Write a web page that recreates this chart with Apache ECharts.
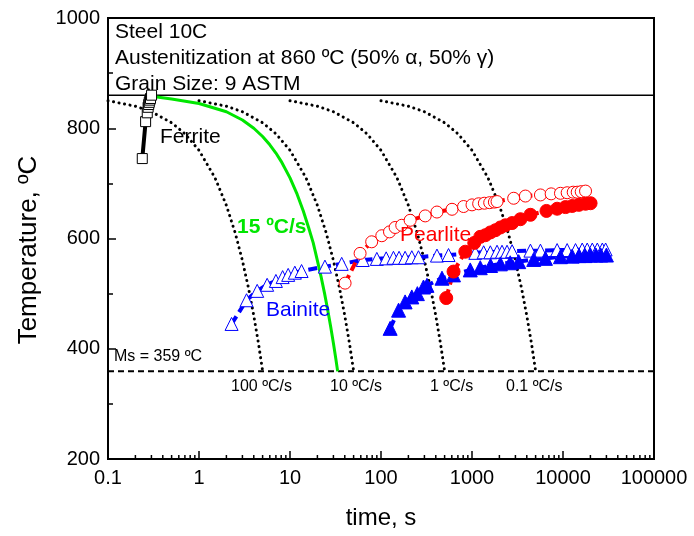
<!DOCTYPE html>
<html>
<head>
<meta charset="utf-8">
<script src="https://cdn.jsdelivr.net/npm/echarts@6/dist/echarts.min.js"></script>
<style>
html,body{margin:0;padding:0;background:#fff;}
#chart{width:694px;height:536px;}
</style>
</head>
<body>
<div id="chart"></div>
<script>
// ---- Data (time in s, temperature in ºC) ----
const xTickLabels = ['0.1', '1', '10', '100', '1000', '10000', '100000'];
const yTickLabels = ['200', '400', '600', '800', '1000'];

const austLine = [[0.1, 860], [100000, 860]];
const msLine = [[0.1, 359], [100000, 359]];

const cool100 = [[0.1,850],[0.2,840],[0.3,830],[0.5,810],[0.7,790],[1,760],[1.5,710],[2,660],[2.5,610],[3,560],[3.5,510],[4,460],[4.5,410],[5.01,359]];
const cool10 = [[1,850],[2,840],[3,830],[5,810],[7,790],[10,760],[15,710],[20,660],[25,610],[30,560],[35,510],[40,460],[45,410],[50.1,359]];
const cool1 = [[10,850],[20,840],[30,830],[50,810],[70,790],[100,760],[150,710],[200,660],[250,610],[300,560],[350,510],[400,460],[450,410],[501,359]];
const cool01 = [[100,850],[200,840],[300,830],[500,810],[700,790],[1000,760],[1500,710],[2000,660],[2500,610],[3000,560],[3500,510],[4000,460],[4500,410],[5010,359]];

const cool15 = [[0.3,858],[0.5,853],[1,845],[2,830],[3,815],[4,800],[5,785],[6,770],[7,755],[8,740],[10,710],[12,680],[14,650],[16,620],[18,592],[20,560],[22,530],[24,500],[26,470],[28,440],[30,410],[32,380],[33.4,359]];

const ferrite = [[0.238,745],[0.259,812],[0.270,828],[0.276,838],[0.280,843],[0.284,847],[0.288,851],[0.293,854],[0.301,860]];

const bainiteStart = [[2.28,445],[3.33,488],[4.36,505],[5.61,516],[7.0,523],[8.3,530],[9.55,534],[11.3,538],[13.4,541],[24.2,549],[37,554],[63,561],[90,563],[114,564],[137,565],[158,565],[184,565],[218,566],[258,566],[412,569],[552,570],[1087,574],[1343,575],[1591,575],[1884,576],[2138,576],[2427,576],[2758,577],[4387,578],[5650,578],[8620,579],[11110,579],[13730,579],[16260,580],[18460,580],[20980,580],[23830,580],[27060,580],[29410,580]];

const bainiteFinish = [[126,437],[156,470],[184,485],[218,494],[251,500],[293,512],[320,515],[468,528],[626,534],[957,543],[1233,547],[1600,551],[2050,554],[2630,556],[3260,558],[4770,562],[6410,564],[9380,567],[12600,568],[15000,569],[17500,569],[20000,570],[23000,570],[26000,570],[30000,570]];

const pearliteStart = [[40.3,519],[58.9,573],[79,594],[102,605],[124,612],[143,620],[169,624],[209,633],[306,641],[412,648],[603,653],[808,658],[1000,661],[1183,663],[1367,664],[1565,665],[1762,666],[1884,667],[2870,673],[3862,677],[5650,679],[7410,681],[9380,682],[11110,683],[12950,684],[14320,684],[15850,685],[17690,686]];

const pearliteFinish = [[521,492],[627,540],[844,576],[1059,592],[1233,603],[1403,606],[1591,611],[1808,615],[2050,620],[2328,624],[2758,628],[3406,635],[4387,643],[6580,650],[8620,654],[10660,657],[12620,659],[14920,661],[17690,663],[20090,664]];

// minor tick positions on the log axis (2..9 per decade)
const minorTicks = [];
for (let e = -1; e < 5; e++) {
  for (let k = 2; k <= 9; k++) minorTicks.push([k * Math.pow(10, e), 200]);
}

const FONT = 'Liberation Sans, Arial, sans-serif';
const chart = echarts.init(document.getElementById('chart'), null, {renderer: 'canvas'});

function dotted(data) {
  return {
    type: 'line', data: data, showSymbol: false, symbol: 'none', smooth: false, z: 1,
    lineStyle: {color: '#000', width: 3, type: [0.1, 5.5], cap: 'round'}, silent: true
  };
}

const option = {
  animation: false,
  backgroundColor: '#fff',
  grid: {left: 108, top: 18, width: 546, height: 441, show: true, borderColor: '#000', borderWidth: 2, backgroundColor: 'transparent'},
  xAxis: {
    type: 'log', logBase: 10, min: 0.1, max: 100000,
    name: 'time, s', nameLocation: 'middle', nameGap: 47,
    nameTextStyle: {fontSize: 24, color: '#000', fontFamily: FONT},
    axisLine: {lineStyle: {color: '#000', width: 2}},
    axisTick: {inside: true, length: 8, lineStyle: {color: '#000', width: 1.5}},
    minorTick: {show: false},
    splitLine: {show: false},
    axisLabel: {
      fontSize: 20, color: '#000', fontFamily: FONT, margin: 9,
      formatter: function (v) {
        const e = Math.round(Math.log10(v));
        return xTickLabels[e + 1] || '';
      }
    }
  },
  yAxis: {
    type: 'value', min: 200, max: 1000, interval: 200,
    axisLine: {lineStyle: {color: '#000', width: 2}},
    axisTick: {inside: true, length: 8, lineStyle: {color: '#000', width: 1.5}},
    minorTick: {show: true, splitNumber: 2, length: 5, lineStyle: {color: '#000', width: 1.5}},
    splitLine: {show: false},
    axisLabel: {
      fontSize: 20, color: '#000', fontFamily: FONT, margin: 8,
      formatter: function (v) { return yTickLabels[Math.round((v - 200) / 200)] || ''; }
    }
  },
  series: [
    {type: 'custom', data: minorTicks, encode: {x: 0, y: 1}, silent: true, z: 5, clip: false,
      renderItem: function (params, api) {
        const p = api.coord([api.value(0), api.value(1)]);
        return {type: 'line', shape: {x1: p[0], y1: p[1], x2: p[0], y2: p[1] - 4}, style: {stroke: '#000', lineWidth: 1.5}};
      }},
    {type: 'line', data: austLine, symbol: 'none', lineStyle: {color: '#000', width: 1.5}, z: 1},
    {type: 'line', data: msLine, symbol: 'none', lineStyle: {color: '#000', width: 2, type: [6, 4]}, z: 1},
    dotted(cool100), dotted(cool10), dotted(cool1), dotted(cool01),
    {type: 'line', data: cool15, symbol: 'none', lineStyle: {color: '#00e600', width: 3}, z: 3},
    {type: 'line', data: ferrite, symbol: 'rect', symbolSize: 10, z: 4,
      lineStyle: {color: '#000', width: 4},
      itemStyle: {color: '#fff', borderColor: '#000', borderWidth: 1}},
    {type: 'line', data: bainiteStart, symbol: 'triangle', symbolSize: 13, z: 4,
      lineStyle: {color: '#0000ff', width: 4, type: [9, 5]},
      itemStyle: {color: '#fff', borderColor: '#0000ff', borderWidth: 1}},
    {type: 'line', data: bainiteFinish, symbol: 'triangle', symbolSize: 14, z: 4,
      lineStyle: {color: '#0000ff', width: 4, type: [9, 5]},
      itemStyle: {color: '#0000ff', borderColor: '#0000ff', borderWidth: 1}},
    {type: 'line', data: pearliteStart, symbol: 'circle', symbolSize: 12, z: 4,
      lineStyle: {color: '#ff0000', width: 4, type: [9, 5]},
      itemStyle: {color: '#fff', borderColor: '#ff0000', borderWidth: 1}},
    {type: 'line', data: pearliteFinish, symbol: 'circle', symbolSize: 13, z: 4,
      lineStyle: {color: '#ff0000', width: 4, type: [9, 5]},
      itemStyle: {color: '#ff0000', borderColor: '#ff0000', borderWidth: 1}}
  ],
  graphic: [
    {type: 'text', x: 29, y: 250, rotation: Math.PI / 2, z: 10,
      style: {text: 'Temperature, ºC', fontSize: 26, fill: '#000', fontFamily: FONT, align: 'center', verticalAlign: 'middle'}},
    {type: 'text', left: 115, top: 22, z: 10, style: {text: 'Steel 10C', fontSize: 21, fill: '#000', fontFamily: FONT}},
    {type: 'text', left: 115, top: 48, z: 10, style: {text: 'Austenitization at 860 ºC (50% α, 50% γ)', fontSize: 21, fill: '#000', fontFamily: FONT}},
    {type: 'text', left: 115, top: 74, z: 10, style: {text: 'Grain Size: 9 ASTM', fontSize: 21, fill: '#000', fontFamily: FONT}},
    {type: 'text', left: 160, top: 127, z: 10, style: {text: 'Ferrite', fontSize: 21, fill: '#000', fontFamily: FONT}},
    {type: 'text', left: 237, top: 217, z: 10, style: {text: '15 ºC/s', fontSize: 21, fontWeight: 'bold', fill: '#00e600', fontFamily: FONT}},
    {type: 'text', left: 400, top: 225, z: 10, style: {text: 'Pearlite', fontSize: 21, fill: '#ff0000', fontFamily: FONT}},
    {type: 'text', left: 266, top: 300, z: 10, style: {text: 'Bainite', fontSize: 21, fill: '#0000ff', fontFamily: FONT}},
    {type: 'text', left: 114, top: 349, z: 10, style: {text: 'Ms = 359 ºC', fontSize: 16, fill: '#000', fontFamily: FONT}},
    {type: 'text', left: 231, top: 379, z: 10, style: {text: '100 ºC/s', fontSize: 16, fill: '#000', fontFamily: FONT}},
    {type: 'text', left: 330, top: 379, z: 10, style: {text: '10 ºC/s', fontSize: 16, fill: '#000', fontFamily: FONT}},
    {type: 'text', left: 430, top: 379, z: 10, style: {text: '1 ºC/s', fontSize: 16, fill: '#000', fontFamily: FONT}},
    {type: 'text', left: 506, top: 379, z: 10, style: {text: '0.1 ºC/s', fontSize: 16, fill: '#000', fontFamily: FONT}}
  ]
};
chart.setOption(option);
</script>
</body>
</html>
